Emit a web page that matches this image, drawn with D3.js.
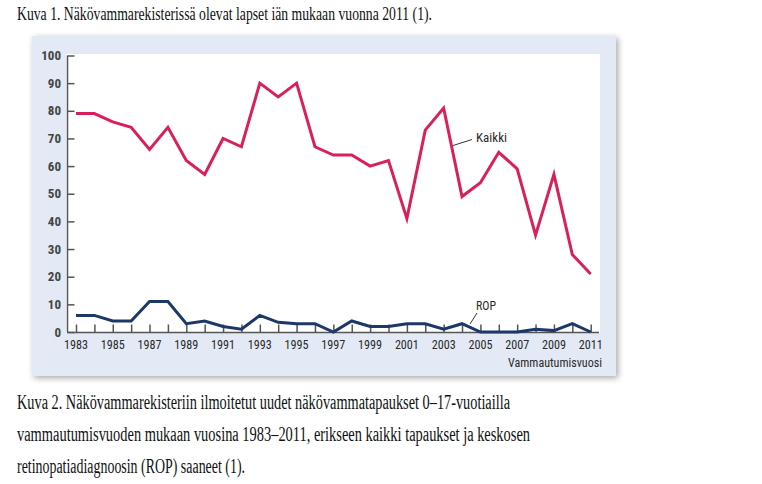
<!DOCTYPE html>
<html><head><meta charset="utf-8">
<script src="https://cdn.jsdelivr.net/npm/d3@7"></script>
<style>
html,body{margin:0;padding:0;background:#fff;}
svg{display:block;}
.serif{font-family:"Liberation Serif","DejaVu Serif",serif;}
.cond{font-family:"Liberation Sans Narrow","Arial Narrow","Roboto Condensed","Liberation Sans",Arial,sans-serif;}
</style></head>
<body>
<svg id="c" width="762" height="484"></svg>
<script>
const years = d3.range(1983, 2012);
const kaikki = [79,79,76,74,66,74,62,57,70,67,90,85,90,67,64,64,60,62,41,73,81,49,54,65,59,35,57,28,21];
const rop = [6,6,4,4,11,11,3,4,2,1,6,3.5,3,3,0,4,2,2,3,3,1,3,0,0,0,1,0.5,3,0];
const yTicks = [0,10,20,30,40,50,60,70,80,90,100];
const xLabelYears = [1983,1985,1987,1989,1991,1993,1995,1997,1999,2001,2003,2005,2007,2009,2011];
const title = "Kuva 1. Näkövammarekisterissä olevat lapset iän mukaan vuonna 2011 (1).";
const caption = [
 "Kuva 2. Näkövammarekisteriin ilmoitetut uudet näkövammatapaukset 0–17-vuotiailla",
 "vammautumisvuoden mukaan vuosina 1983–2011, erikseen kaikki tapaukset ja keskosen",
 "retinopatiadiagnoosin (ROP) saaneet (1)."
];
const captionWidths = [493, 513, 228];

const svg = d3.select("#c");
const defs = svg.append("defs");
const f = defs.append("filter").attr("id","sh").attr("x","-5%").attr("y","-5%").attr("width","112%").attr("height","112%");
f.append("feDropShadow").attr("dx",2).attr("dy",2).attr("stdDeviation",3).attr("flood-color","#000").attr("flood-opacity",0.35);

svg.append("text").attr("class","serif").attr("x",17).attr("y",19.5).attr("font-size",19.5).attr("fill","#111")
  .attr("textLength",415).attr("lengthAdjust","spacingAndGlyphs").text(title);

svg.append("rect").attr("x",32).attr("y",36).attr("width",584).attr("height",340).attr("fill","#e3eaf6").attr("filter","url(#sh)");

const x = d3.scaleLinear().domain([1983,2011]).range([76,590.7]);
const y = d3.scaleLinear().domain([0,100]).range([332,55.5]);

svg.append("rect").attr("x",66).attr("y",54).attr("width",534).attr("height",279).attr("fill","#fff");

const axisCol = "#555";
const ya = svg.append("g").attr("transform","translate(67.5,0)")
  .call(d3.axisRight(y).tickValues(yTicks).tickSize(7).tickFormat(""));
ya.select(".domain").attr("stroke",axisCol).attr("stroke-width",1.5).attr("d","M0,"+y(100)+"V"+y(0));
ya.selectAll(".tick line").attr("stroke",axisCol).attr("stroke-width",1.5);
svg.append("g").selectAll("text").data(yTicks).join("text").attr("class","cond")
  .attr("x",61).attr("y",d=>y(d)+4.5).attr("text-anchor","end")
  .attr("font-size",13).attr("font-weight","bold").attr("fill","#444")
  .attr("textLength",d=>String(d).length*6.6).attr("lengthAdjust","spacingAndGlyphs")
  .text(d=>d);

const xa = svg.append("g").attr("transform","translate(0,332.5)")
  .call(d3.axisTop(x).tickValues(years).tickSize(8).tickFormat(""));
xa.select(".domain").attr("stroke",axisCol).attr("stroke-width",1.5).attr("d","M67,0H599");
xa.selectAll(".tick line").attr("stroke",axisCol).attr("stroke-width",1.5);
svg.append("g").selectAll("text").data(xLabelYears).join("text").attr("class","cond")
  .attr("x",d=>x(d)).attr("y",349).attr("text-anchor","middle")
  .attr("font-size",13).attr("fill","#2a2a2a")
  .attr("textLength",24).attr("lengthAdjust","spacingAndGlyphs")
  .text(d=>d);
svg.append("text").attr("class","cond").attr("x",602).attr("y",367).attr("text-anchor","end")
  .attr("font-size",13).attr("fill","#2a2a2a").attr("textLength",94).attr("lengthAdjust","spacingAndGlyphs").text("Vammautumisvuosi");

const line = d3.line().x((d,i)=>x(years[i])).y(d=>y(d));
svg.append("path").datum(kaikki).attr("d",line).attr("fill","none").attr("stroke","#d8205a").attr("stroke-width",3);
svg.append("path").datum(rop).attr("d",line).attr("fill","none").attr("stroke","#1b3868").attr("stroke-width",3);

svg.append("line").attr("x1",453).attr("y1",145.5).attr("x2",472).attr("y2",139.5).attr("stroke","#333").attr("stroke-width",1);
svg.append("text").attr("class","cond").attr("x",476).attr("y",142).attr("font-size",13).attr("fill","#2a2a2a").attr("textLength",31).attr("lengthAdjust","spacingAndGlyphs").text("Kaikki");
svg.append("line").attr("x1",470).attr("y1",324).attr("x2",477).attr("y2",313).attr("stroke","#333").attr("stroke-width",1);
svg.append("text").attr("class","cond").attr("x",476).attr("y",310).attr("font-size",13).attr("fill","#2a2a2a").attr("textLength",20).attr("lengthAdjust","spacingAndGlyphs").text("ROP");

svg.append("g").selectAll("text").data(caption).join("text").attr("class","serif")
  .attr("x",17).attr("y",(d,i)=>409+i*32).attr("font-size",20).attr("fill","#111")
  .attr("textLength",(d,i)=>captionWidths[i]).attr("lengthAdjust","spacingAndGlyphs").text(d=>d);
</script>
</body></html>
